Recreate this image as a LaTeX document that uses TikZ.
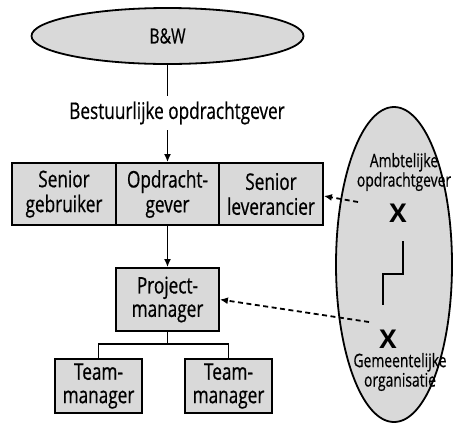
\documentclass[tikz,border=0pt]{standalone}
\usepackage{fontspec}
\setmainfont{Open Sans}[FakeStretch=0.75,FakeBold=0.6]
\newfontfamily\crossfont{Open Sans}
\usetikzlibrary{shapes.geometric,arrows.meta}
\definecolor{panelgray}{RGB}{217,217,217}
\begin{document}
\begin{tikzpicture}[x=1bp,y=-1bp,line width=1.8bp,
  roundbox/.style={ellipse,draw,fill=panelgray,inner sep=0pt},
  rolebox/.style={rectangle,draw,fill=panelgray,inner sep=0pt,align=center,
    minimum height=62bp,font=\fontsize{23}{25}\selectfont},
  teambox/.style={rectangle,draw,fill=panelgray,inner sep=0pt,align=center,
    minimum width=87bp,minimum height=54bp,font=\fontsize{23}{23.5}\selectfont},
  sidetext/.style={inner sep=0pt,align=center,font=\fontsize{18.6}{19.5}\selectfont},
  cross/.style={inner sep=0pt,font=\crossfont\fontsize{26}{26}\selectfont\bfseries},
  arr/.style={-{Latex[length=8bp,width=7bp]}},
  dasharr/.style={-{Latex[length=8bp,width=7bp]},dash pattern=on 5bp off 3.5bp}]
\useasboundingbox (0,0) rectangle (453,423);

% governing body and principal
\node[roundbox,minimum width=272bp,minimum height=56bp,font=\fontsize{21}{22}\selectfont] (bw) at (167.5,36) {B\&W};
\node[inner sep=0pt,minimum height=33bp,font=\fontsize{23}{24}\selectfont] (bo) at (177,113) {Bestuurlijke opdrachtgever};

% project board
\node[rolebox,minimum width=104bp] (sg) at (64,194) {Senior\\gebruiker};
\node[rolebox,minimum width=103bp] (opd) at (167.5,194) {Opdracht-\\gever};
\node[rolebox,minimum width=104bp] (sl) at (271,194) {Senior\\leverancier};

% management
\node[rolebox,minimum width=103bp,minimum height=63bp,font=\fontsize{23}{23.5}\selectfont] (pm) at (167.5,299.5) {Project-\\manager};
\node[teambox] (tm1) at (98.5,386) {Team-\\manager};
\node[teambox] (tm2) at (228.5,386) {Team-\\manager};

% municipal organisation
\node[roundbox,minimum width=116bp,minimum height=315bp] (org) at (394,264.5) {};
\node[sidetext] (ao) at (404,172) {Ambtelijke\\opdrachtgever};
\node[cross] (xa) at (398,213) {X};
\node[cross] (xb) at (388,339) {X};
\node[sidetext] (go) at (400,372) {Gemeentelijke\\organisatie};

% connectors
\draw (bw.south) -- (bw.south |- bo.north);
\draw[arr] (bw.south |- bo.south) -- (opd.north);
\draw[arr] (opd.south) -- (pm.north);
\coordinate (fork) at (167.5,344);
\draw (pm.south) -- (fork);
\draw (tm1.north) |- (fork) -| (tm2.north);

\coordinate (s1) at (403,241);
\coordinate (s2) at (383,305);
\draw (s1) -- ++(0,33) -| (s2);

\coordinate (da) at (358,202);
\coordinate (db) at (369,322);
\draw[dasharr] (da) -- ([yshift=-2bp]sl.east);
\draw[dasharr] (db) -- (pm.east);
\end{tikzpicture}
\end{document}
